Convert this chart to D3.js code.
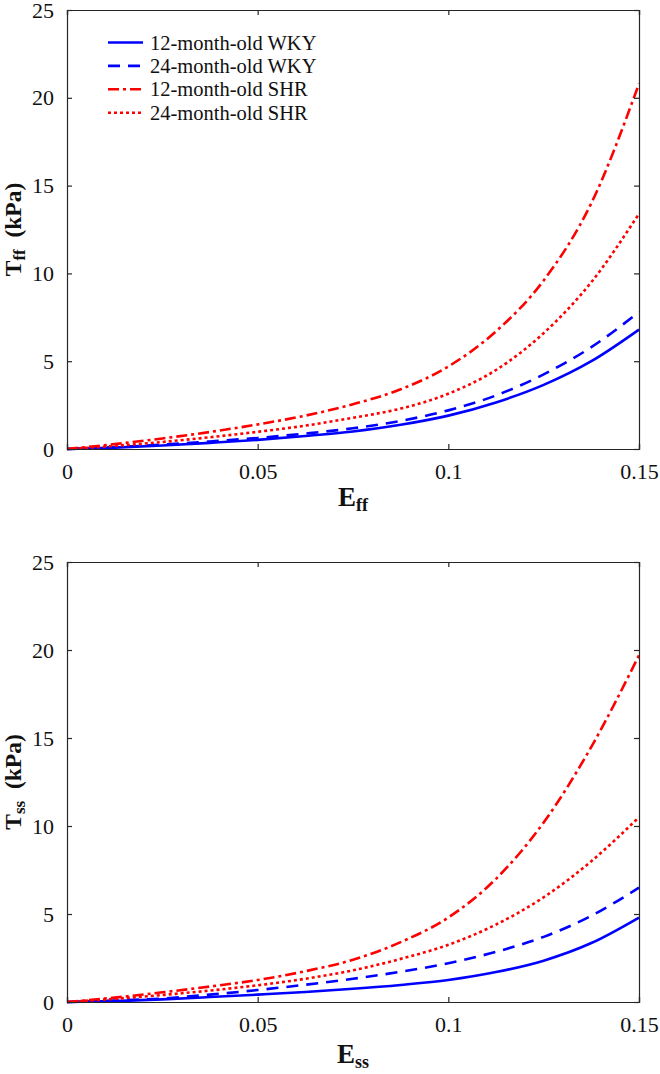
<!DOCTYPE html>
<html>
<head>
<meta charset="utf-8">
<script src="https://cdn.jsdelivr.net/npm/d3@7"></script>
<style>
  html, body { margin: 0; padding: 0; background: #fff; }
  svg { display: block; font-family: "Liberation Serif", "Times New Roman", serif; }
</style>
</head>
<body>
<svg id="chart" width="660" height="1074"></svg>
<script>
// ---------- data ----------
const strain = [0, 0.0125, 0.025, 0.0375, 0.05, 0.0625, 0.075, 0.0875, 0.1, 0.1125, 0.125, 0.1375, 0.15];

// Fibre direction (T_ff vs E_ff), kPa
const ffWKY12 = [0, 0.08, 0.2, 0.35, 0.52, 0.74, 1.0, 1.38, 1.9, 2.65, 3.65, 5.0, 6.8];
const ffWKY24 = [0, 0.1, 0.25, 0.43, 0.63, 0.88, 1.18, 1.6, 2.2, 3.05, 4.25, 5.8, 7.8];
const ffSHR12 = [0, 0.28, 0.6, 0.97, 1.4, 1.9, 2.55, 3.4, 4.7, 6.7, 9.6, 14.0, 20.8];
const ffSHR24 = [0, 0.18, 0.4, 0.67, 0.98, 1.33, 1.78, 2.3, 3.15, 4.5, 6.6, 9.5, 13.4];

// Sheet direction (T_ss vs E_ss), kPa
const ssWKY12 = [0, 0.05, 0.15, 0.28, 0.42, 0.57, 0.75, 0.97, 1.25, 1.7, 2.35, 3.35, 4.8];
const ssWKY24 = [0, 0.08, 0.2, 0.42, 0.68, 0.98, 1.32, 1.72, 2.2, 2.85, 3.7, 4.9, 6.5];
const ssSHR12 = [0, 0.25, 0.55, 0.88, 1.25, 1.75, 2.4, 3.4, 4.8, 7.0, 10.2, 14.5, 19.7];
const ssSHR24 = [0, 0.18, 0.4, 0.65, 0.95, 1.32, 1.8, 2.45, 3.25, 4.4, 5.95, 8.0, 10.5];

const seriesNames = ["12-month-old WKY", "24-month-old WKY", "12-month-old SHR", "24-month-old SHR"];
const seriesColors = ["#0000ff", "#0000ff", "#ff0000", "#ff0000"];
const seriesDash = [null, "12,8", "11,4,3,4", "3,3"];

const xTicks = [0, 0.05, 0.1, 0.15];
const xTickLabels = ["0", "0.05", "0.1", "0.15"];
const yTicks = [0, 5, 10, 15, 20, 25];
const yTickLabels = ["0", "5", "10", "15", "20", "25"];

const panels = [
  { sub: "ff", series: [ffWKY12, ffWKY24, ffSHR12, ffSHR24], top: 10, bottom: 449, legend: true, xlabBase: 506 },
  { sub: "ss", series: [ssWKY12, ssWKY24, ssSHR12, ssSHR24], top: 562, bottom: 1002, legend: false, xlabBase: 1063 }
];

// ---------- drawing ----------
const svg = d3.select("#chart");
const left = 67, right = 639;
const axisColor = "#262626";

panels.forEach(p => {
  const x = d3.scaleLinear().domain([0, 0.15]).range([left, right]);
  const y = d3.scaleLinear().domain([0, 25]).range([p.bottom, p.top]);
  const g = svg.append("g");

  // curves
  const line = d3.line()
    .x((d, i) => x(strain[i]))
    .y(d => y(d))
    .curve(d3.curveMonotoneX);

  p.series.forEach((vals, k) => {
    g.append("path")
      .datum(vals)
      .attr("d", line)
      .attr("fill", "none")
      .attr("stroke", seriesColors[k])
      .attr("stroke-width", 2.6)
      .attr("stroke-dasharray", seriesDash[k])
      .attr("stroke-linecap", "butt");
  });

  // axes (inward ticks, mirrored on top/right)
  const tickLen = -5;
  const bottomAx = g.append("g").attr("transform", `translate(0,${p.bottom})`)
    .call(d3.axisBottom(x).tickValues(xTicks).tickSize(tickLen).tickPadding(14)
      .tickFormat((d, i) => xTickLabels[i]));
  const topAx = g.append("g").attr("transform", `translate(0,${p.top})`)
    .call(d3.axisTop(x).tickValues(xTicks).tickSize(tickLen).tickFormat(""));
  const leftAx = g.append("g").attr("transform", `translate(${left},0)`)
    .call(d3.axisLeft(y).tickValues(yTicks).tickSize(tickLen).tickPadding(13)
      .tickFormat((d, i) => yTickLabels[i]));
  const rightAx = g.append("g").attr("transform", `translate(${right},0)`)
    .call(d3.axisRight(y).tickValues(yTicks).tickSize(tickLen).tickFormat(""));

  [bottomAx, topAx, leftAx, rightAx].forEach(ax => {
    ax.attr("font-family", "'Liberation Serif', serif");
    ax.selectAll(".domain").attr("stroke", axisColor).attr("stroke-width", 1.2);
    ax.selectAll(".tick line").attr("stroke", axisColor).attr("stroke-width", 1.2);
    ax.selectAll("text").attr("fill", "#111")
      .style("font-family", "'Liberation Serif', serif")
      .style("font-size", "22px");
  });

  // x label
  const xl = g.append("text")
    .attr("x", (left + right) / 2)
    .attr("y", p.xlabBase)
    .attr("text-anchor", "middle")
    .attr("font-weight", "bold")
    .attr("fill", "#111")
    .style("font-size", "27px");
  xl.append("tspan").text("E");
  xl.append("tspan").attr("dy", 5).style("font-size", "18px").text(p.sub);

  // y label
  const yl = g.append("text")
    .attr("transform", `translate(20.5,${(p.top + p.bottom) / 2}) rotate(-90)`)
    .attr("text-anchor", "middle")
    .attr("font-weight", "bold")
    .attr("fill", "#111")
    .style("font-size", "23.5px");
  yl.append("tspan").text("T");
  yl.append("tspan").attr("dy", 4).style("font-size", "17px").text(p.sub);
  yl.append("tspan").attr("dy", -4).text("\u00a0\u00a0(kPa)");

  // legend
  if (p.legend) {
    const lg = g.append("g");
    seriesNames.forEach((name, k) => {
      const ly = 42.5 + k * 23.4;
      lg.append("line")
        .attr("x1", 108).attr("x2", 143)
        .attr("y1", ly).attr("y2", ly)
        .attr("stroke", seriesColors[k])
        .attr("stroke-width", 2.6)
        .attr("stroke-dasharray", seriesDash[k]);
      lg.append("text")
        .attr("x", 150).attr("y", ly + 7)
        .attr("fill", "#111")
        .style("font-size", "20.5px")
        .text(name);
    });
  }
});
</script>
</body>
</html>
